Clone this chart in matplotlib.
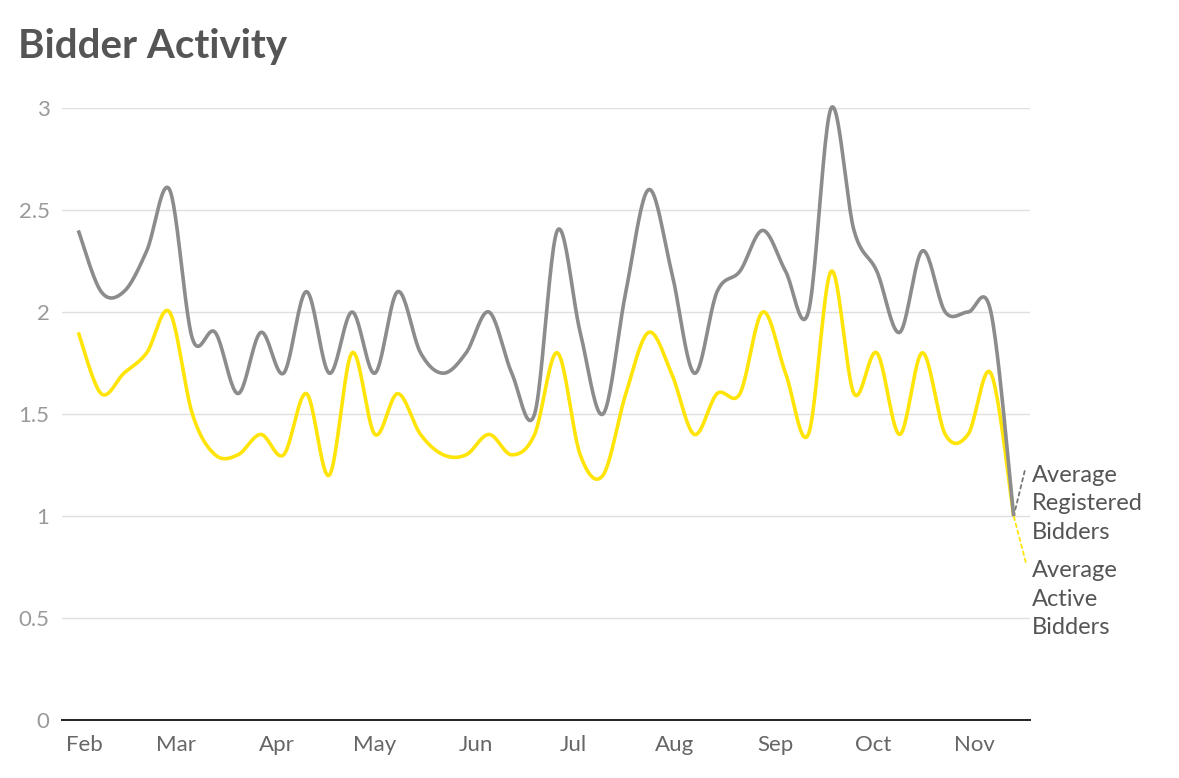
import numpy as np
import pandas as pd
import matplotlib
matplotlib.use('Agg')
import matplotlib.pyplot as plt
import matplotlib.dates as mdates
from matplotlib.ticker import FuncFormatter

plt.rcParams['font.family'] = ['Lato', 'DejaVu Sans']

# weekly averages
dates = pd.date_range('2017-01-30', periods=42, freq='7D')
registered = [2.4, 2.1, 2.1, 2.3, 2.6, 1.87, 1.9, 1.6, 1.9, 1.7, 2.1, 1.7, 2.0, 1.7,
              2.1, 1.8, 1.7, 1.8, 2.0, 1.7, 1.5, 2.4, 1.9, 1.5, 2.1, 2.6, 2.2, 1.7,
              2.1, 2.2, 2.4, 2.2, 2.0, 3.0, 2.4, 2.2, 1.9, 2.3, 2.0, 2.0, 2.0, 1.0]
active = [1.9, 1.6, 1.7, 1.8, 2.0, 1.5, 1.3, 1.3, 1.4, 1.3, 1.6, 1.2, 1.8, 1.4,
          1.6, 1.4, 1.3, 1.3, 1.4, 1.3, 1.4, 1.8, 1.3, 1.2, 1.6, 1.9, 1.7, 1.4,
          1.6, 1.6, 2.0, 1.7, 1.4, 2.2, 1.6, 1.8, 1.4, 1.8, 1.4, 1.4, 1.7, 1.0]
y_ticks = [0, 0.5, 1, 1.5, 2, 2.5, 3]

GRAY = '#8c8c8c'
YELLOW = '#ffe40a'


def cardinal(x, y, n=24):
    # catmull-rom style smoothing, like d3.curveCardinal
    x = np.asarray(x, float)
    y = np.asarray(y, float)

    def tang(p):
        m = np.empty_like(p)
        m[1:-1] = (p[2:] - p[:-2]) / 2
        m[0] = (p[1] - p[0]) / 2
        m[-1] = (p[-1] - p[-2]) / 2
        return m

    mx, my = tang(x), tang(y)
    t = np.linspace(0, 1, n)[:-1]
    h00 = 2 * t**3 - 3 * t**2 + 1
    h10 = t**3 - 2 * t**2 + t
    h01 = -2 * t**3 + 3 * t**2
    h11 = t**3 - t**2
    xs, ys = [], []
    for i in range(len(x) - 1):
        xs.append(h00 * x[i] + h10 * mx[i] + h01 * x[i + 1] + h11 * mx[i + 1])
        ys.append(h00 * y[i] + h10 * my[i] + h01 * y[i + 1] + h11 * my[i + 1])
    xs.append([x[-1]])
    ys.append([y[-1]])
    return np.concatenate(xs), np.concatenate(ys)


fig = plt.figure(figsize=(11.79, 7.78), dpi=100)
ax = fig.add_axes([62 / 1179, 58 / 778, 968 / 1179, 612 / 778])

xn = mdates.date2num(dates)
gx, gy = cardinal(xn, registered)
yx, yy = cardinal(xn, active)
ax.plot(yx, yy, color=YELLOW, lw=2.6, clip_on=False, zorder=3, solid_capstyle='butt')
ax.plot(gx, gy, color=GRAY, lw=2.6, clip_on=False, zorder=4, solid_capstyle='butt')

ax.set_xlim(pd.Timestamp('2017-01-25'), pd.Timestamp('2017-11-18'))
ax.set_ylim(0, 3)
ax.set_yticks(y_ticks)
ax.yaxis.set_major_formatter(FuncFormatter(lambda v, p: f'{v:g}'))
ax.xaxis.set_major_locator(mdates.MonthLocator())
ax.xaxis.set_major_formatter(mdates.DateFormatter('%b'))

ax.grid(axis='y', color='#e0e0e0', lw=1)
ax.set_axisbelow(True)
for s in ['top', 'right', 'left']:
    ax.spines[s].set_visible(False)
ax.spines['bottom'].set_color('#222222')
ax.spines['bottom'].set_linewidth(1.4)
ax.tick_params(axis='y', length=0, pad=9, labelsize=16, labelcolor='#9a9a9a')
ax.tick_params(axis='x', length=0, pad=11, labelsize=16, labelcolor='#666666')

# end labels with leader lines
end = (xn[-1], registered[-1])
ax.annotate('', xy=end, xytext=(11, 45), textcoords='offset pixels',
            arrowprops=dict(arrowstyle='-', color='#777777', lw=1.3, ls=(0, (2, 2)),
                            shrinkA=0, shrinkB=0), annotation_clip=False)
ax.annotate('', xy=(xn[-1], active[-1]), xytext=(12, -46), textcoords='offset pixels',
            arrowprops=dict(arrowstyle='-', color=YELLOW, lw=1.3, ls=(0, (2, 2)),
                            shrinkA=0, shrinkB=0), annotation_clip=False)
ax.annotate('Average\nRegistered\nBidders', xy=end, xytext=(18, 12),
            textcoords='offset pixels', ha='left', va='center', fontsize=17,
            color='#555555', linespacing=1.45, annotation_clip=False)
ax.annotate('Average\nActive\nBidders', xy=(xn[-1], active[-1]), xytext=(18, -83),
            textcoords='offset pixels', ha='left', va='center', fontsize=17,
            color='#555555', linespacing=1.45, annotation_clip=False)

fig.text(18 / 1179, 1 - 58 / 778, 'Bidder Activity', fontsize=29, fontweight='bold',
         color='#555555', ha='left', va='baseline')

fig.savefig('out.png', dpi=100)
